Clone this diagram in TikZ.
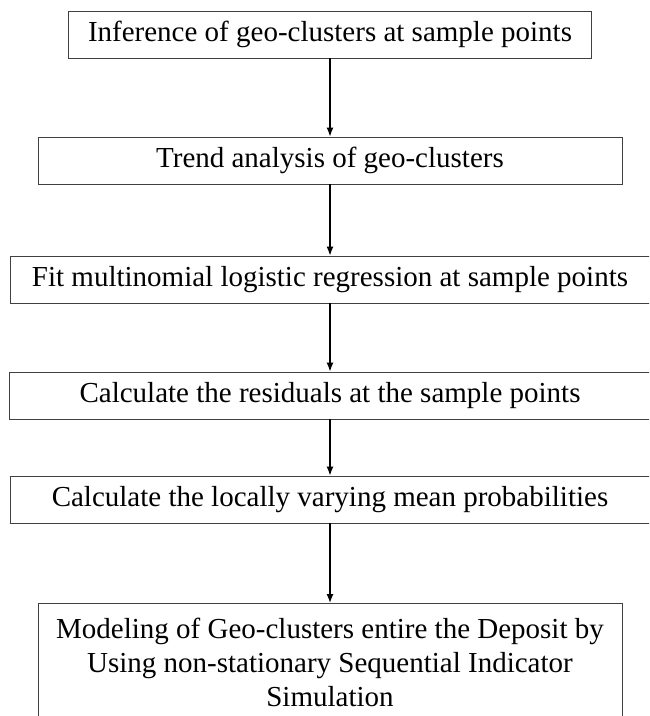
\documentclass[tikz,border=0pt]{standalone}
\usepackage{fontspec}
\setmainfont{Liberation Serif}
\usetikzlibrary{arrows.meta}
\tikzset{
  stepbox/.style={draw=black!75, line width=0.9pt, rectangle, minimum height=47pt, inner sep=0pt, anchor=center, font=\fontsize{29}{34}\selectfont},
  arr/.style={line width=1.3pt, black, -{Latex[length=9pt,width=7pt]}}
}
\begin{document}
\begin{tikzpicture}[x=1pt,y=-1pt]
\useasboundingbox (0,0) rectangle (649,716);
\clip (0,0) rectangle (649,716);
\node[stepbox, minimum width=523pt] (b1) at (330,34.5) {Inference of geo-clusters at sample points};
\node[stepbox, minimum width=584pt] (b2) at (330,160.5) {Trend analysis of geo-clusters};
\node[stepbox, minimum width=640pt] (b3) at (330,279.5) {Fit multinomial logistic regression at sample points};
\node[stepbox, minimum width=642pt] (b4) at (330,395.5) {Calculate the residuals at the sample points};
\node[stepbox, minimum width=640pt] (b5) at (330,499.5) {Calculate the locally varying mean probabilities};
\node[stepbox, minimum width=584pt, minimum height=0pt, anchor=north, inner ysep=15pt, align=center] (b6) at (330,603) {Modeling of Geo-clusters entire the Deposit by\\Using non-stationary Sequential Indicator\\Simulation\\[4pt]};
\draw[arr] (b1.south) -- (b2.north);
\draw[arr] (b2.south) -- (b3.north);
\draw[arr] (b3.south) -- (b4.north);
\draw[arr] (b4.south) -- (b5.north);
\draw[arr] (b5.south) -- (b6.north);
\end{tikzpicture}
\end{document}
